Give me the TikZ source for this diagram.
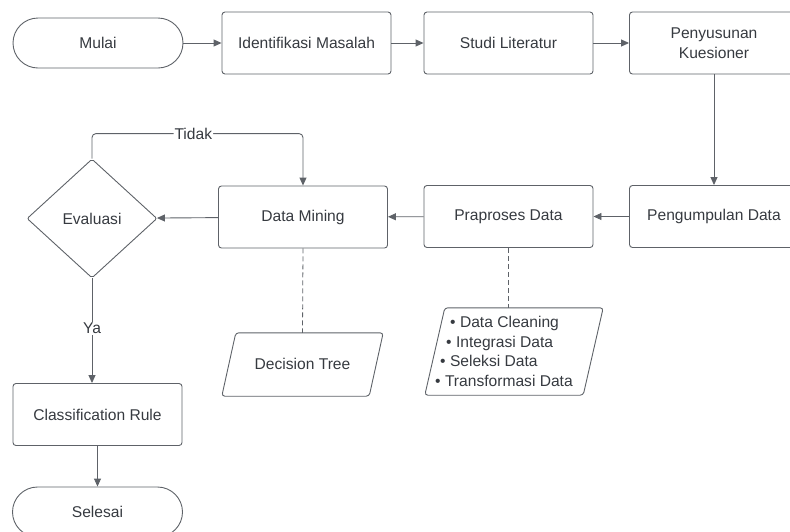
\documentclass[tikz,border=0pt]{standalone}
\usepackage{fontspec}
\setmainfont{Liberation Sans}
\usetikzlibrary{shapes.geometric,arrows.meta}
\definecolor{edge}{HTML}{5E6268}
\definecolor{ink}{HTML}{363A40}

\begin{document}
\begin{tikzpicture}[x=1pt,y=-1pt,
  every node/.style={font=\fontsize{15.6}{19.6}\selectfont, text=ink},
  box/.style={draw=edge, line width=0.9pt, rounded corners=3pt, minimum width=169pt,
    minimum height=62pt, inner sep=2pt, align=center},
  term/.style={draw=edge, line width=0.9pt, rounded corners=25pt, minimum width=170pt,
    minimum height=50pt},
  decision/.style={draw=edge, line width=0.9pt, diamond, minimum width=130pt,
    minimum height=119pt, inner sep=0pt, rounded corners=2pt},
  iobox/.style={inner sep=0pt},
  ioframe/.style={draw=edge, line width=0.9pt, rounded corners=3pt},
  flow/.style={draw=edge, line width=0.9pt, -{Triangle[length=8pt,width=7pt]}},
  link/.style={draw=edge, line width=0.8pt, dash pattern=on 5pt off 3pt},
  tag/.style={fill=white, inner sep=1pt}
]
\clip (0,0) rectangle (790,531);
\useasboundingbox (0,0) rectangle (790,531);

% top row
\node[term] (mulai) at (98,43) {Mulai};
\node[box] (ident) at (306.5,43) {Identifikasi Masalah};
\node[box] (studi) at (508.5,43) {Studi Literatur};
\node[box] (kues) at (714,43) {Penyusunan\\Kuesioner};

% middle row
\node[box] (kumpul) at (714,216.5) {Pengumpulan Data};
\node[box] (praproses) at (508.5,216.5) {Praproses Data};
\node[box] (mining) at (303,217) {Data Mining};
\node[decision] (eval) at (92,218.5) {Evaluasi};

% left column
\node[box] (rule) at (97.5,414.5) {Classification Rule};
\node[term] (selesai) at (97.5,512) {Selesai};

% data (parallelogram) nodes
\node[iobox, minimum width=161pt, minimum height=63pt] (tree) at (302.5,364.5) {\raisebox{2pt}{Decision Tree}};
\draw[ioframe] ([xshift=14pt]tree.north west) -- (tree.north east)
  -- ([xshift=-14pt]tree.south east) -- (tree.south west) -- cycle;

\node[iobox, minimum width=178pt, minimum height=87pt] (prep) at (514,351.5) {};
\draw[ioframe] ([xshift=20pt]prep.north west) -- (prep.north east)
  -- ([xshift=-20pt]prep.south east) -- (prep.south west) -- cycle;
\node[align=left, inner sep=0pt] (preptext) at (504,351.5)
  {\hspace*{15pt}• Data Cleaning\\\hspace*{11pt}• Integrasi Data\\\hspace*{5pt}• Seleksi Data\\• Transformasi Data};

% connectors
\draw[flow] (mulai) -- (ident);
\draw[flow] (ident) -- (studi);
\draw[flow] (studi) -- (kues);
\draw[flow] (kues) -- (kumpul);
\draw[flow] (kumpul) -- (praproses);
\draw[flow] (praproses) -- (mining);
\draw[flow] (mining) -- (eval);
\draw[flow, rounded corners=4pt] (eval.north) -- ++(0,-25) -| node[tag, pos=0.24] {Tidak} (mining.north);
\draw[flow] (eval.south) -- node[tag, pos=0.48] {Ya} (eval.south |- rule.north);
\draw[flow] (rule) -- (selesai);
\draw[link] (mining.south) -- (tree.north);
\draw[link] (praproses.south) -- (praproses.south |- prep.north);
\end{tikzpicture}
\end{document}
